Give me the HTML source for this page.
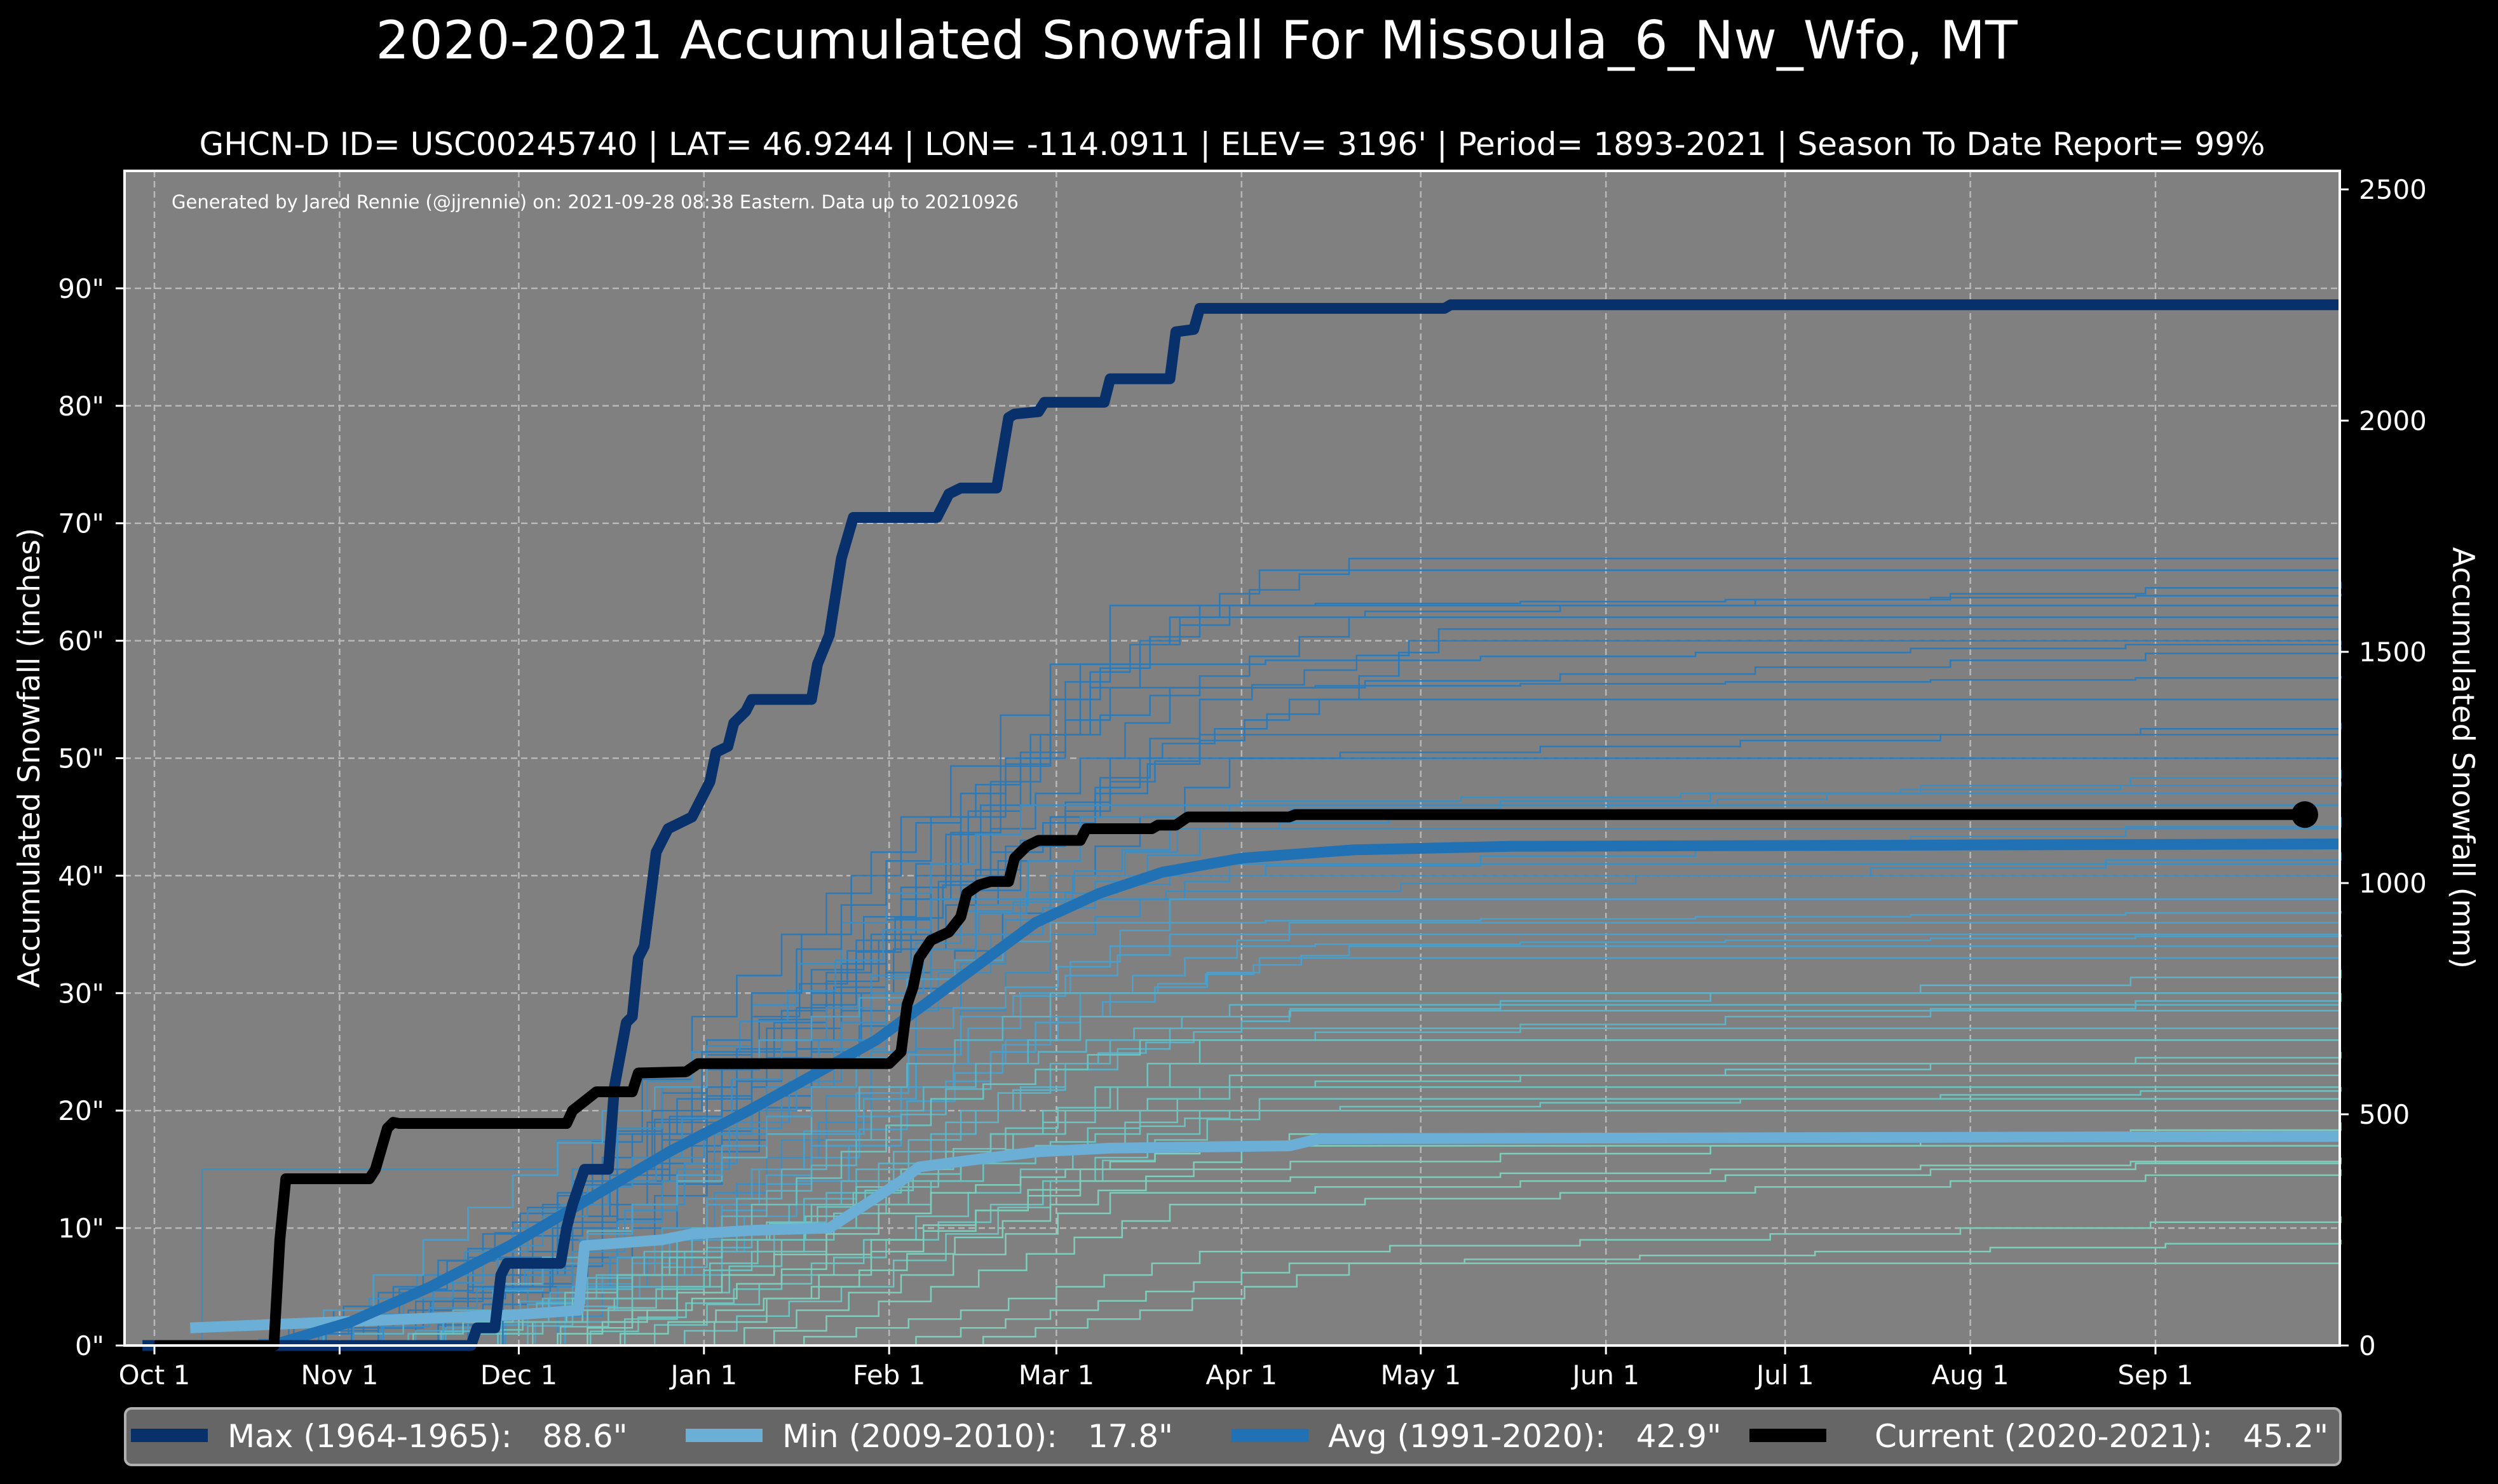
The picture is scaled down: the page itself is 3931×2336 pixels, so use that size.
<!DOCTYPE html>
<html><head><meta charset="utf-8">
<style>
html,body{margin:0;padding:0;background:#000;}
svg{display:block;font-family:"DejaVu Sans","Liberation Sans",sans-serif;}
</style></head>
<body>
<svg id="chart" width="3931" height="2336" viewBox="0 0 3931 2336" xmlns="http://www.w3.org/2000/svg">
<rect x="0" y="0" width="3931" height="2336" fill="#000"/>
<text x="1883" y="92" fill="#fff" font-size="83" text-anchor="middle">2020-2021 Accumulated Snowfall For Missoula_6_Nw_Wfo, MT</text>
<text x="1939" y="244" fill="#fff" font-size="50" text-anchor="middle">GHCN-D ID= USC00245740 | LAT= 46.9244 | LON= -114.0911 | ELEV= 3196' | Period= 1893-2021 | Season To Date Report= 99%</text>
<rect x="196" y="269" width="3486" height="1849" fill="#808080"/>
<g id="grid"></g>
<text x="270" y="328" fill="#fff" font-size="29">Generated by Jared Rennie (@jjrennie) on: 2021-09-28 08:38 Eastern. Data up to 20210926</text>
<g id="thin"></g>
<g id="main"></g>
<rect x="196" y="269" width="3486" height="1849" fill="none" stroke="#fff" stroke-width="4"/>
<g id="axes"></g>
<text transform="translate(62,1193) rotate(-90)" fill="#fff" font-size="47" text-anchor="middle">Accumulated Snowfall (inches)</text>
<text transform="translate(3860,1193) rotate(90)" fill="#fff" font-size="47" text-anchor="middle">Accumulated Snowfall (mm)</text>
<g>
<rect x="197" y="2217" width="3486" height="89" rx="10" fill="#666" stroke="#b0b0b0" stroke-width="4"/>
<rect x="206" y="2249" width="121" height="21" fill="#08306b"/>
<text x="358" y="2278" fill="#fff" font-size="50" xml:space="preserve">Max (1964-1965):   88.6"</text>
<rect x="1079" y="2249" width="121" height="21" fill="#6baed6"/>
<text x="1231" y="2278" fill="#fff" font-size="50" xml:space="preserve">Min (2009-2010):   17.8"</text>
<rect x="1938" y="2249" width="121" height="21" fill="#2171b5"/>
<text x="2090" y="2278" fill="#fff" font-size="50" xml:space="preserve">Avg (1991-2020):   42.9"</text>
<rect x="2753" y="2249" width="121" height="21" fill="#000"/>
<text x="2950" y="2278" fill="#fff" font-size="50" xml:space="preserve">Current (2020-2021):   45.2"</text>
</g>
</svg>
<script>
const monthLabels = ["Oct 1","Nov 1","Dec 1","Jan 1","Feb 1","Mar 1","Apr 1","May 1","Jun 1","Jul 1","Aug 1","Sep 1"];
const monthDays = [0,31,61,92,123,151,182,212,243,273,304,335];
const inchTicks = [0,10,20,30,40,50,60,70,80,90];
const mmTicks = [0,500,1000,1500,2000,2500];

const maxSeries = [[-2,0],[53,0],[54,1.5],[57,1.5],[58,6],[59,7],[68,7],[69,10],[70,12],[72,15],[76,15],[77,22],[79,27.5],[80,28],[81,33],[82,34],[84,42],[86,44],[88,44.5],[90,45],[91,46],[93,48],[94,50.5],[96,51],[97,53],[99,54],[100,55],[110,55],[111,58],[113,60.5],[115,67],[117,70.5],[131,70.5],[132,71.5],[133,72.5],[135,73],[141,73],[143,79],[144,79.3],[148,79.5],[149,80.3],[159,80.3],[160,82.3],[170,82.3],[171,86.3],[174,86.5],[175,88.3],[216,88.3],[217,88.6],[366,88.6]];
const minSeries = [[6,1.5],[20,1.8],[40,2.2],[60,2.6],[71,3],[72,8.5],[85,9],[90,9.5],[100,9.8],[113,10],[116,11],[119,12],[122,13],[125,14],[128,15.2],[140,16],[148,16.5],[160,16.8],[190,17],[195,17.6],[366,17.8]];
const avgSeries = [[19.5,0],[32.8,2],[46.2,5],[59.5,8.5],[72.8,12.5],[86.2,16.5],[99.5,20],[110.2,23],[120.8,26],[131.5,30],[139.5,33],[147.5,36],[158.2,38.5],[168.8,40.3],[182.2,41.5],[200.8,42.2],[227.5,42.5],[366,42.7]];
const currentSeries = [[0,0],[20,0],[21,9],[22,14.2],[36,14.2],[37,15],[39,18.5],[40,19],[41,18.9],[69,18.9],[70,20],[72,20.8],[74,21.6],[80,21.6],[81,23.2],[89,23.3],[91,24],[123,24],[125,25],[126,29],[127,30.5],[128,33],[130,34.5],[133,35.2],[135,36.5],[136,38.5],[138,39.2],[140,39.5],[143,39.5],[144,41.5],[146,42.5],[148,43],[155,43],[156,44],[167,44],[168,44.3],[171,44.3],[173,45],[190,45],[191,45.2],[360,45.2]];

const thinSeries = [
[[10,0],[40,2],[60,10],[90,22],[120,35],[150,55],[175,63],[200,67],[366,67]],
[[20,0],[55,5],[80,18],[110,30],[140,48],[165,60],[185,66],[366,66]],
[[30,0],[60,8],[95,20],[125,38],[150,55],[170,62],[366,65]],
[[15,0],[45,6],[75,15],[110,32],[145,50],[160,63],[366,64]],
[[35,0],[70,10],[100,25],[130,40],[155,58],[180,63],[366,63]],
[[25,0],[65,12],[90,28],[120,42],[150,52],[200,62],[366,62]],
[[40,0],[70,7],[100,22],[130,35],[160,50],[195,55],[215,61],[366,61]],
[[20,0],[50,4],[85,18],[115,30],[150,45],[175,55],[210,60],[366,60]],
[[45,0],[75,12],[105,26],[140,44],[170,56],[366,59.5]],
[[30,0],[60,6],[95,24],[130,38],[160,48],[190,55],[366,55]],
[[50,0],[80,10],[110,25],[135,40],[165,50],[366,53]],
[[35,0],[70,15],[100,28],[140,42],[175,52],[366,52]],
[[40,0],[75,9],[110,24],[150,40],[180,50],[366,50]],
[[55,0],[85,14],[120,30],[155,45],[366,49]],
[[20,0],[60,10],[100,20],[130,35],[170,44],[280,47],[366,47]],
[[45,0],[80,12],[115,26],[145,38],[180,46],[366,46]],
[[60,0],[90,10],[120,25],[150,40],[366,45]],
[[30,0],[70,8],[105,22],[140,35],[175,44],[366,44]],
[[50,0],[85,10],[120,22],[150,35],[180,41],[366,41]],
[[40,0],[75,6],[110,18],[145,30],[170,38],[366,38]],
[[55,0],[90,8],[125,20],[155,30],[190,36],[366,36]],
[[35,0],[70,5],[100,15],[135,28],[170,35],[366,35]],
[[60,0],[95,12],[125,22],[160,30],[200,34],[366,34]],
[[45,0],[80,7],[110,16],[150,28],[185,33],[366,33]],
[[50,0],[90,10],[120,20],[155,28],[366,32]],
[[65,0],[95,8],[130,18],[160,26],[366,30]],
[[40,0],[80,6],[115,14],[150,24],[190,28.5],[366,28.5]],
[[55,0],[100,10],[135,20],[170,27],[366,27]],
[[70,0],[105,9],[140,18],[175,26],[366,26]],
[[45,0],[85,5],[125,15],[160,22],[366,25]],
[[60,0],[100,8],[135,16],[170,24],[366,24]],
[[75,0],[110,7],[145,15],[180,23],[366,23]],
[[50,0],[95,6],[130,14],[165,20],[366,22]],
[[80,0],[115,5],[150,14],[185,21],[366,21]],
[[65,0],[105,6],[140,12],[175,20],[366,20]],
[[85,0],[120,8],[155,15],[366,19]],
[[70,0],[110,5],[150,12],[190,18],[366,18]],
[[90,0],[125,6],[160,13],[366,16]],
[[95,0],[130,5],[170,12],[366,15]],
[[120,0],[150,3],[190,7],[366,9]],
[[130,0],[165,3],[200,7],[366,7]],
[[5,0],[8,15],[60,15],[90,25],[130,38],[366,42]],
[[25,0],[50,3],[80,12],[110,20],[150,30],[366,30]],
[[35,0],[65,4],[95,11],[140,24],[180,29],[366,29]],
[[15,0],[40,5],[70,14],[100,30],[125,45],[150,58],[366,60]],
[[30,0],[55,8],[85,22],[115,36],[145,46],[366,48]],
[[25,0],[50,6],[80,16],[105,26],[135,37],[170,40],[366,40]],
[[40,0],[65,7],[95,17],[125,27],[160,34],[366,35]],
[[45,0],[70,4],[100,12],[130,21],[165,26],[366,26]],
[[55,0],[80,6],[110,12],[140,18],[175,22],[366,22]],
[[35,0],[60,3],[95,9],[135,16],[180,20],[366,20]],
[[60,0],[90,4],[120,9],[155,14],[366,16]],
[[20,0],[45,9],[75,20],[110,28],[150,36],[366,37]],
[[50,0],[75,15],[100,30],[130,45],[160,56],[366,57]],
[[65,0],[95,6],[130,13],[175,17],[366,17]],
[[100,0],[135,3],[175,8],[366,11]]
];

const NS = "http://www.w3.org/2000/svg";
const X0 = 243, PXD = 9.4, Y0 = 2118, PXI = 18.49, LEFT = 196, RIGHT = 3682, TOP = 269;
function xs(d){ return X0 + d*PXD; }
function ys(v){ return Y0 - v*PXI; }
function ymm(mm){ return Y0 - (mm/25.4)*PXI; }
function mk(tag, attrs, parent){
  const e = document.createElementNS(NS, tag);
  for (const k in attrs) e.setAttribute(k, attrs[k]);
  parent.appendChild(e); return e;
}
const grid = document.getElementById('grid');
const axes = document.getElementById('axes');
monthDays.forEach((d,i)=>{
  const l = mk('line',{x1:xs(d),x2:xs(d),y1:TOP,y2:Y0,stroke:'#b8b8b8','stroke-width':2.5,'stroke-dasharray':'10 6'},grid);
  
  
  const t = mk('line',{x1:xs(d),x2:xs(d),y1:Y0,y2:Y0+14,stroke:'#fff','stroke-width':3},axes);
  
  
  const tx = mk('text',{x:xs(d),y:2179,fill:'#fff','font-size':42,'text-anchor':'middle'},axes);
  tx.textContent = monthLabels[i];
  
  
});
inchTicks.forEach(v=>{
  if (v>0){
    const l = mk('line',{x1:LEFT,x2:RIGHT,y1:ys(v),y2:ys(v),stroke:'#b8b8b8','stroke-width':2.5,'stroke-dasharray':'10 6'},grid);
    
    
  }
  const t = mk('line',{x1:LEFT-14,x2:LEFT,y1:ys(v),y2:ys(v),stroke:'#fff','stroke-width':3},axes);
  
  
  const tx = mk('text',{x:164,y:ys(v)+15,fill:'#fff','font-size':42,'text-anchor':'end'},axes);
  tx.textContent = v + '"';
  
  
});
mmTicks.forEach(v=>{
  const t = mk('line',{x1:RIGHT,x2:RIGHT+14,y1:ymm(v),y2:ymm(v),stroke:'#fff','stroke-width':3},axes);
  
  
  const tx = mk('text',{x:3712,y:ymm(v)+15,fill:'#fff','font-size':42},axes);
  tx.textContent = v;
  
  
});
function stepPath(pts){
  let d = 'M'+xs(pts[0][0])+','+ys(pts[0][1]);
  for (let i=1;i<pts.length;i++){
    const a=pts[i-1], b=pts[i];
    const dx = b[0]-a[0], dv=b[1]-a[1];
    const n = Math.max(1, Math.min(6, Math.round(dx/8)));
    for (let k=1;k<=n;k++){
      const dd = a[0]+dx*k/n, vv = a[1]+dv*k/n;
      d += ' H'+xs(dd)+' V'+ys(vv);
    }
  }
  return d;
}
const thin = document.getElementById('thin');
const thinColors = ['#2b7bba','#3a8ec6','#4aa0cc','#5cb3c8','#6cc3c0','#7fcdbb'];
thinSeries.forEach(s=>{
  const fin = s[s.length-1][1];
  const ci = fin>=50?0:fin>=40?1:fin>=33?2:fin>=27?3:fin>=20?4:5;
  const p = mk('path',{d:stepPath(s),fill:'none',stroke:thinColors[ci],'stroke-width':2.5},thin);
  
  
});
function linePath(pts){ return pts.map((p,i)=>(i?'L':'M')+xs(p[0])+','+ys(p[1])).join(' '); }
const main = document.getElementById('main');
const pMin = mk('path',{d:linePath(minSeries),fill:'none',stroke:'#6baed6','stroke-width':17,'stroke-linejoin':'round'},main);


const pAvg = mk('path',{d:linePath(avgSeries),fill:'none',stroke:'#2171b5','stroke-width':17,'stroke-linejoin':'round'},main);


const pMax = mk('path',{d:linePath(maxSeries),fill:'none',stroke:'#08306b','stroke-width':17,'stroke-linejoin':'round'},main);


const pCur = mk('path',{d:linePath(currentSeries),fill:'none',stroke:'#000','stroke-width':17,'stroke-linejoin':'round'},main);


const last = currentSeries[currentSeries.length-1];
const dot = mk('circle',{cx:xs(last[0]),cy:ys(last[1]),r:21,fill:'#000'},main);


</script>
</body></html>
